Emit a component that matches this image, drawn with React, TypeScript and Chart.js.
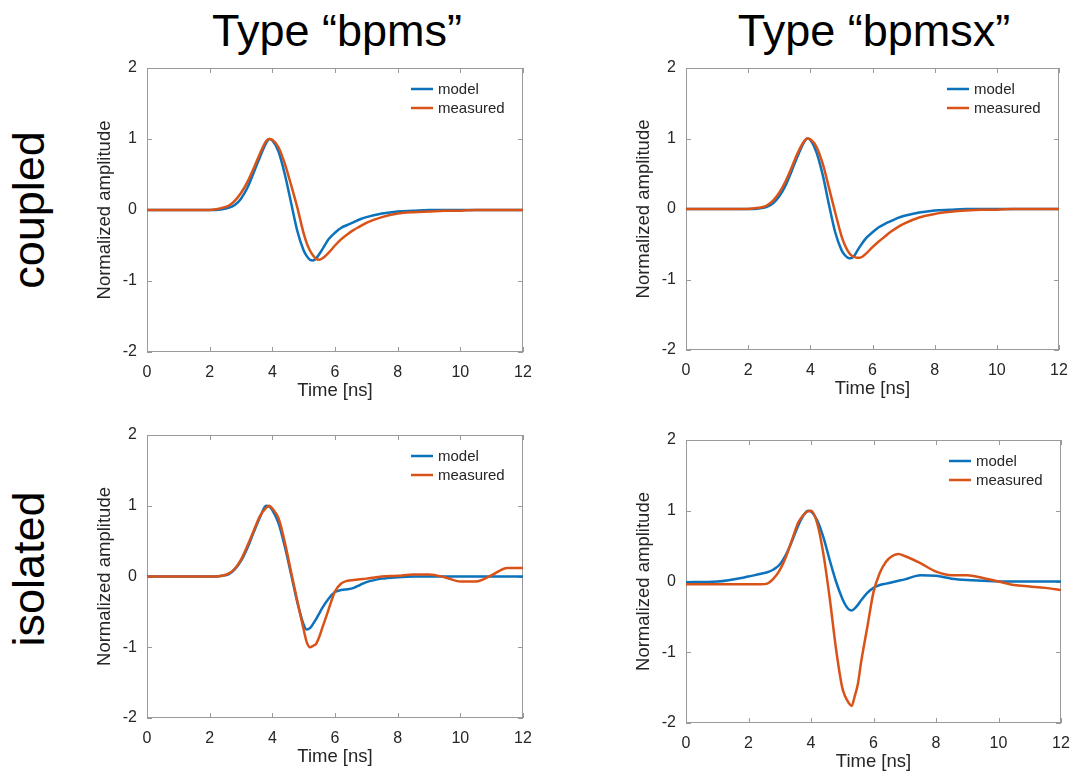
import React, { useEffect, useRef } from "react";
import { Chart, registerables } from "chart.js";

Chart.register(...registerables);

// ---------- data ----------
const timeNs = [0, 1, 2, 2.2, 2.4, 2.6, 2.8, 3.0, 3.2, 3.4, 3.6, 3.8, 3.9, 4.0, 4.2, 4.4, 4.6, 4.8, 5.0, 5.1, 5.2, 5.3, 5.4, 5.5, 5.6, 5.8, 6.0, 6.2, 6.4, 6.6, 6.8, 7.0, 7.5, 8.0, 8.5, 9.0, 9.5, 10.0, 10.5, 11.0, 11.5, 12];

const coupledBpmsModel = [0, 0, 0, 0, 0.01, 0.03, 0.07, 0.16, 0.31, 0.52, 0.74, 0.94, 1.0, 0.98, 0.82, 0.5, 0.1, -0.3, -0.57, -0.65, -0.7, -0.71, -0.68, -0.62, -0.55, -0.41, -0.32, -0.25, -0.21, -0.17, -0.13, -0.1, -0.05, -0.02, -0.01, 0, 0, 0, 0, 0, 0, 0];
const coupledBpmsMeasured = [0, 0, 0, 0.01, 0.03, 0.06, 0.13, 0.24, 0.39, 0.58, 0.79, 0.97, 1.0, 0.99, 0.88, 0.65, 0.35, 0.03, -0.33, -0.47, -0.57, -0.64, -0.69, -0.7, -0.68, -0.6, -0.5, -0.41, -0.34, -0.28, -0.23, -0.18, -0.1, -0.05, -0.03, -0.02, -0.01, -0.01, 0, 0, 0, 0];

const coupledBpmsxModel = [0, 0, 0, 0, 0.01, 0.03, 0.08, 0.18, 0.33, 0.54, 0.76, 0.95, 1.0, 0.98, 0.8, 0.48, 0.06, -0.33, -0.58, -0.65, -0.69, -0.7, -0.67, -0.6, -0.53, -0.41, -0.33, -0.26, -0.21, -0.17, -0.13, -0.1, -0.05, -0.02, -0.01, 0, 0, 0, 0, 0, 0, 0];
const coupledBpmsxMeasured = [0, 0, 0, 0.01, 0.02, 0.05, 0.12, 0.23, 0.39, 0.59, 0.8, 0.96, 1.0, 0.99, 0.88, 0.64, 0.3, -0.05, -0.38, -0.5, -0.59, -0.65, -0.68, -0.69, -0.69, -0.63, -0.54, -0.46, -0.39, -0.32, -0.26, -0.21, -0.12, -0.07, -0.04, -0.02, -0.01, -0.01, 0, 0, 0, 0];

const isolatedBpmsModel = [0, 0, 0, 0, 0.01, 0.03, 0.1, 0.22, 0.4, 0.62, 0.83, 1.0, 0.99, 0.94, 0.75, 0.42, 0.03, -0.37, -0.68, -0.75, -0.73, -0.67, -0.6, -0.52, -0.44, -0.31, -0.22, -0.19, -0.18, -0.16, -0.12, -0.08, -0.03, -0.01, 0, 0, 0, 0, 0, 0, 0, 0];
const isolatedBpmsMeasured = [0, 0, 0, 0, 0.01, 0.04, 0.11, 0.24, 0.43, 0.64, 0.85, 0.97, 1.0, 0.96, 0.82, 0.48, 0.06, -0.35, -0.75, -0.93, -1.0, -0.98, -0.95, -0.85, -0.72, -0.46, -0.21, -0.1, -0.06, -0.05, -0.04, -0.03, 0.0, 0.01, 0.03, 0.03, -0.01, -0.07, -0.07, 0.02, 0.12, 0.12];

const isolatedBpmsxModel = [-0.01, 0.0, 0.07, 0.09, 0.11, 0.13, 0.17, 0.24, 0.38, 0.58, 0.8, 0.96, 1.0, 0.99, 0.86, 0.62, 0.3, 0.0, -0.24, -0.33, -0.39, -0.41, -0.38, -0.33, -0.27, -0.16, -0.09, -0.05, -0.03, -0.01, 0.01, 0.03, 0.09, 0.08, 0.04, 0.02, 0.01, 0, 0, 0, 0, 0];
const isolatedBpmsxMeasured = [-0.04, -0.04, -0.04, -0.04, -0.04, -0.03, 0.04, 0.16, 0.35, 0.6, 0.84, 0.96, 0.99, 1.0, 0.82, 0.38, -0.24, -0.95, -1.5, -1.63, -1.71, -1.76, -1.62, -1.45, -1.15, -0.65, -0.15, 0.12, 0.28, 0.36, 0.39, 0.36, 0.26, 0.14, 0.09, 0.09, 0.05, 0.0, -0.05, -0.07, -0.09, -0.12];

const xTickValues = [0, 2, 4, 6, 8, 10, 12];
const yTickValues = [-2, -1, 0, 1, 2];
const columnTitles = ["Type \u201cbpms\u201d", "Type \u201cbpmsx\u201d"];
const rowLabels = ["coupled", "isolated"];
const seriesNames = ["model", "measured"];
const xAxisTitle = "Time [ns]";
const yAxisTitle = "Normalized amplitude";

// ---------- styling / layout ----------
const BLUE = "#0b72bb";
const RED = "#d95319";
const TEXT = "#262626";
const FRAME = "#9a9a9a";
const FONT = '"Liberation Sans", Arial, Helvetica, sans-serif';

const Y_AXIS_W = 87;
const X_AXIS_H = 62;
const PAD_TOP = 20;
const PAD_RIGHT = 22;

type PanelSpec = {
  model: number[];
  measured: number[];
  left: number;
  top: number;
  right: number;
  bottom: number;
};

const panels: PanelSpec[] = [
  { model: coupledBpmsModel, measured: coupledBpmsMeasured, left: 147, top: 68, right: 523, bottom: 352 },
  { model: coupledBpmsxModel, measured: coupledBpmsxMeasured, left: 686, top: 68, right: 1059, bottom: 350 },
  { model: isolatedBpmsModel, measured: isolatedBpmsMeasured, left: 147, top: 435, right: 523, bottom: 718 },
  { model: isolatedBpmsxModel, measured: isolatedBpmsxMeasured, left: 686, top: 440, right: 1061, bottom: 723 },
];

const framePlugin = {
  id: "matlabFrame",
  beforeDatasetsDraw(chart: any) {
    const { ctx, chartArea: a, scales } = chart;
    const x = scales.x;
    const y = scales.y;
    ctx.save();
    ctx.strokeStyle = FRAME;
    ctx.lineWidth = 1;
    ctx.strokeRect(Math.round(a.left) + 0.5, Math.round(a.top) + 0.5, Math.round(a.right - a.left) - 1, Math.round(a.bottom - a.top) - 1);
    ctx.beginPath();
    const tl = 5;
    xTickValues.forEach((v) => {
      const px = Math.round(x.getPixelForValue(v)) + 0.5;
      ctx.moveTo(px, a.bottom);
      ctx.lineTo(px, a.bottom - tl);
      ctx.moveTo(px, a.top);
      ctx.lineTo(px, a.top + tl);
    });
    yTickValues.forEach((v) => {
      const py = Math.round(y.getPixelForValue(v)) + 0.5;
      ctx.moveTo(a.left, py);
      ctx.lineTo(a.left + tl, py);
      ctx.moveTo(a.right, py);
      ctx.lineTo(a.right - tl, py);
    });
    ctx.stroke();
    ctx.restore();
  },
  afterDraw(chart: any) {
    const { ctx, chartArea: a } = chart;
    ctx.save();
    const colors = [BLUE, RED];
    ctx.font = `15px ${FONT}`;
    ctx.textBaseline = "middle";
    ctx.textAlign = "left";
    seriesNames.forEach((name, i) => {
      const yy = a.top + 21 + i * 19;
      ctx.strokeStyle = colors[i];
      ctx.lineWidth = 2.5;
      ctx.beginPath();
      ctx.moveTo(a.right - 112, yy);
      ctx.lineTo(a.right - 90, yy);
      ctx.stroke();
      ctx.fillStyle = TEXT;
      ctx.fillText(name, a.right - 85, yy + 1);
    });
    ctx.restore();
  },
};

function Panel({ spec }: { spec: PanelSpec }) {
  const ref = useRef<HTMLCanvasElement | null>(null);
  const width = spec.right - spec.left + Y_AXIS_W + PAD_RIGHT;
  const height = spec.bottom - spec.top + PAD_TOP + X_AXIS_H;

  useEffect(() => {
    if (!ref.current) return;
    const mk = (vals: number[]) => timeNs.map((t, i) => ({ x: t, y: vals[i] }));
    const chart = new Chart(ref.current, {
      type: "line",
      data: {
        datasets: [
          {
            label: seriesNames[1],
            data: mk(spec.measured),
            borderColor: RED,
            borderWidth: 2.5,
            pointRadius: 0,
            cubicInterpolationMode: "monotone",
            fill: false,
          },
          {
            label: seriesNames[0],
            data: mk(spec.model),
            borderColor: BLUE,
            borderWidth: 2.5,
            pointRadius: 0,
            cubicInterpolationMode: "monotone",
            fill: false,
          },
        ],
      },
      options: {
        responsive: false,
        animation: false,
        devicePixelRatio: 1,
        events: [],
        layout: { padding: { top: PAD_TOP, right: PAD_RIGHT, left: 0, bottom: 0 }, autoPadding: false },
        plugins: { legend: { display: false }, tooltip: { enabled: false } },
        scales: {
          x: {
            type: "linear",
            min: 0,
            max: 12,
            afterBuildTicks: (s: any) => {
              s.ticks = xTickValues.map((v) => ({ value: v }));
            },
            afterFit: (s: any) => {
              s.height = X_AXIS_H;
            },
            grid: { display: false, drawTicks: false },
            border: { display: false },
            ticks: { padding: 11, color: TEXT, font: { size: 16, family: FONT }, maxRotation: 0 },
            title: {
              display: true,
              text: xAxisTitle,
              color: TEXT,
              font: { size: 18.5, family: FONT },
              padding: { top: 0, bottom: 12 },
            },
          },
          y: {
            type: "linear",
            min: -2,
            max: 2,
            afterBuildTicks: (s: any) => {
              s.ticks = yTickValues.map((v) => ({ value: v }));
            },
            afterFit: (s: any) => {
              s.width = Y_AXIS_W;
            },
            grid: { display: false, drawTicks: false },
            border: { display: false },
            ticks: { padding: 10, color: TEXT, font: { size: 16, family: FONT } },
            title: {
              display: true,
              text: yAxisTitle,
              color: TEXT,
              font: { size: 18.5, family: FONT },
              padding: { top: 34, bottom: 0 },
            },
          },
        },
      } as any,
      plugins: [framePlugin],
    });
    return () => chart.destroy();
  }, [spec]);

  return (
    <canvas
      ref={ref}
      width={width}
      height={height}
      style={{ position: "absolute", left: spec.left - Y_AXIS_W, top: spec.top - PAD_TOP, width, height }}
    />
  );
}

export default function App() {
  const titleStyle = (cx: number): React.CSSProperties => ({
    position: "absolute",
    left: cx,
    top: 8,
    transform: "translateX(-50%)",
    fontFamily: FONT,
    fontSize: 45,
    lineHeight: "45px",
    color: "#000",
    whiteSpace: "nowrap",
  });
  const rowStyle = (cy: number): React.CSSProperties => ({
    position: "absolute",
    left: 28,
    top: cy,
    transform: "translate(-50%, -50%) rotate(-90deg)",
    fontFamily: FONT,
    fontSize: 45,
    lineHeight: "45px",
    color: "#000",
    whiteSpace: "nowrap",
  });
  return (
    <div style={{ position: "fixed", left: 0, top: 0, width: 1073, height: 775, background: "#fff", overflow: "hidden" }}>
      <div style={titleStyle(337)}>{columnTitles[0]}</div>
      <div style={titleStyle(874)}>{columnTitles[1]}</div>
      <div style={rowStyle(210)}>{rowLabels[0]}</div>
      <div style={rowStyle(569)}>{rowLabels[1]}</div>
      {panels.map((p, i) => (
        <Panel key={i} spec={p} />
      ))}
    </div>
  );
}
